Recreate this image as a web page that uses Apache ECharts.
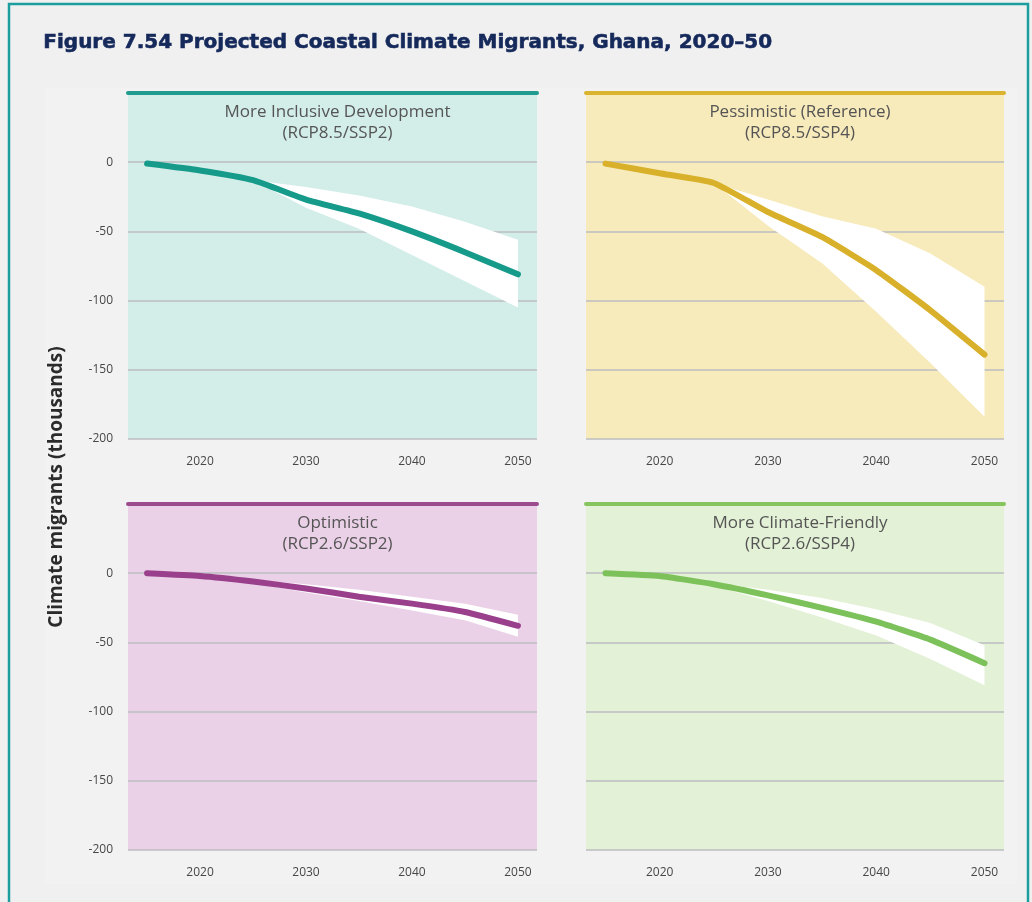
<!DOCTYPE html>
<html>
<head>
<meta charset="utf-8">
<title>Projected Coastal Climate Migrants, Ghana, 2020–50</title>
<script src="https://cdn.jsdelivr.net/npm/echarts@6/dist/echarts.min.js"></script>
<style>
  html, body { margin: 0; padding: 0; background: #f0f0f0; }
  #chart { width: 1032px; height: 902px; }
</style>
</head>
<body>
<div id="chart"></div>
<script>
// ---- data (thousands of climate migrants; negative = net out-migration) ----
const years = [2015, 2020, 2025, 2030, 2035, 2040, 2045, 2050];
const bandYears = [2025, 2030, 2035, 2040, 2045, 2050];
const xTickLabels = [2020, 2030, 2040, 2050];
const yTickLabels = [0, -50, -100, -150, -200];

const scenarioNames = ['More Inclusive Development', 'Pessimistic (Reference)', 'Optimistic', 'More Climate-Friendly'];
const scenarioCodes = ['(RCP8.5/SSP2)', '(RCP8.5/SSP4)', '(RCP2.6/SSP2)', '(RCP2.6/SSP4)'];

const inclusiveMid  = [-1, -6, -13, -27, -37, -50, -65, -81];
const inclusiveHigh = [-13, -18, -24, -32, -43, -56];
const inclusiveLow  = [-13, -33, -48, -67, -86, -105];

const pessimisticMid  = [-1, -8, -15, -36, -54, -78, -107, -139];
const pessimisticHigh = [-15, -27, -39, -48, -66, -90];
const pessimisticLow  = [-15, -46, -73, -108, -145, -184];

const optimisticMid  = [0, -2, -6, -11, -17, -22, -28, -38];
const optimisticHigh = [-5, -8, -12, -17, -22, -30];
const optimisticLow  = [-7, -14, -20, -27, -34, -46];

const friendlyMid  = [0, -2, -8, -16, -25, -35, -48, -65];
const friendlyHigh = [-7, -12, -18, -26, -36, -52];
const friendlyLow  = [-9, -20, -32, -45, -62, -81];

// ---- panel styling ----
const panels = [
  { mid: inclusiveMid,   high: inclusiveHigh,   low: inclusiveLow,   line: '#169a8a', bar: '#1f9c8d', bg: '#d3ede9', left: 128, top: 93,  width: 409 },
  { mid: pessimisticMid, high: pessimisticHigh, low: pessimisticLow, line: '#d8b02a', bar: '#dbb42f', bg: '#f7eabb', left: 586, top: 93,  width: 418 },
  { mid: optimisticMid,  high: optimisticHigh,  low: optimisticLow,  line: '#993f8c', bar: '#9b4b8e', bg: '#ebd1e7', left: 128, top: 504, width: 409 },
  { mid: friendlyMid,    high: friendlyHigh,    low: friendlyLow,    line: '#7cc15a', bar: '#86c45d', bg: '#e3f1d6', left: 586, top: 504, width: 418 }
];
const PANEL_HEIGHT = 346;

const labelFont = { color: '#474747', fontFamily: 'Open Sans', fontSize: 12 };

const grids = [], xAxes = [], yAxes = [], series = [], titles = [];

panels.forEach((p, i) => {
  grids.push({
    left: p.left, top: p.top, width: p.width, height: PANEL_HEIGHT,
    show: true, backgroundColor: p.bg, borderWidth: 0, containLabel: false
  });

  // bottom year axis
  xAxes.push({
    gridIndex: i, type: 'value', min: 2013.2, max: 2051.8,
    axisLine: { show: false }, axisTick: { show: false }, splitLine: { show: false },
    axisLabel: { ...labelFont, margin: 17, customValues: xTickLabels, formatter: v => String(v) }
  });
  // coloured header rule along the top edge of each panel
  xAxes.push({
    gridIndex: i, type: 'value', position: 'top', min: 2013.2, max: 2051.8, z: 5,
    axisLine: { show: true, onZero: false, lineStyle: { color: p.bar, width: 4 } },
    axisTick: { show: false }, axisLabel: { show: false }, splitLine: { show: false }
  });

  yAxes.push({
    gridIndex: i, type: 'value', min: -200, max: 50, interval: 50,
    axisLine: { show: false }, axisTick: { show: false },
    splitLine: { show: true, lineStyle: { color: '#bcbcc0', width: 1.6 } },
    axisLabel: {
      show: i % 2 === 0, ...labelFont, margin: 15,
      customValues: yTickLabels, formatter: v => String(v)
    }
  });

  // white uncertainty band: one polygon along the upper bound and back along the lower bound
  const bandItems = bandYears.map((y, k) => [y, p.high[k], p.low[k]]);
  series.push({
    type: 'custom', xAxisIndex: 2 * i, yAxisIndex: i, silent: true, z: 2,
    encode: { x: 0, y: [1, 2] },
    data: bandItems,
    renderItem: (params, api) => {
      if (params.dataIndex !== 0) return null;
      const upper = bandItems.map(d => api.coord([d[0], d[1]]));
      const lower = bandItems.map(d => api.coord([d[0], d[2]])).reverse();
      return {
        type: 'polygon',
        shape: { points: upper.concat(lower) },
        style: { fill: '#ffffff' }
      };
    }
  });

  // central projection
  series.push({
    type: 'line', xAxisIndex: 2 * i, yAxisIndex: i,
    data: years.map((y, k) => [y, p.mid[k]]),
    symbol: 'none', smooth: 0.15,
    lineStyle: { color: p.line, width: 6, cap: 'round', join: 'round' }, z: 4
  });

  titles.push({
    text: scenarioNames[i] + '\n' + scenarioCodes[i],
    left: p.left + p.width / 2, top: p.top + 4, textAlign: 'center',
    textStyle: { color: '#555555', fontFamily: 'Open Sans', fontSize: 17, fontWeight: 'normal', lineHeight: 21 }
  });
});

const chart = echarts.init(document.getElementById('chart'), null, { renderer: 'canvas' });
chart.setOption({
  animation: false,
  backgroundColor: '#f0f0f0',
  title: titles,
  grid: grids,
  xAxis: xAxes,
  yAxis: yAxes,
  series: series,
  graphic: [
    {
      type: 'rect', z: -10, silent: true,
      shape: { x: 9, y: 4, width: 1019, height: 960 },
      style: { fill: '#f0f0f0', stroke: '#1c9e9e', lineWidth: 2.5 }
    },
    {
      type: 'rect', z: -9, silent: true,
      shape: { x: 45, y: 88, width: 972, height: 796 },
      style: { fill: '#f2f2f2' }
    },
    {
      type: 'text', z: 10, left: 43, top: 32,
      style: {
        text: 'Figure 7.54 Projected Coastal Climate Migrants, Ghana, 2020–50',
        fill: '#15295b', font: 'bold 20px "DejaVu Sans"',
        stroke: '#15295b', lineWidth: 0.6
      }
    },
    {
      type: 'text', z: 10, x: 57, y: 487, rotation: Math.PI / 2,
      style: {
        text: 'Climate migrants (thousands)',
        fill: '#2b2b2b', font: 'bold 19px "Open Sans"',
        align: 'center', verticalAlign: 'middle'
      }
    }
  ]
});
</script>
</body>
</html>
